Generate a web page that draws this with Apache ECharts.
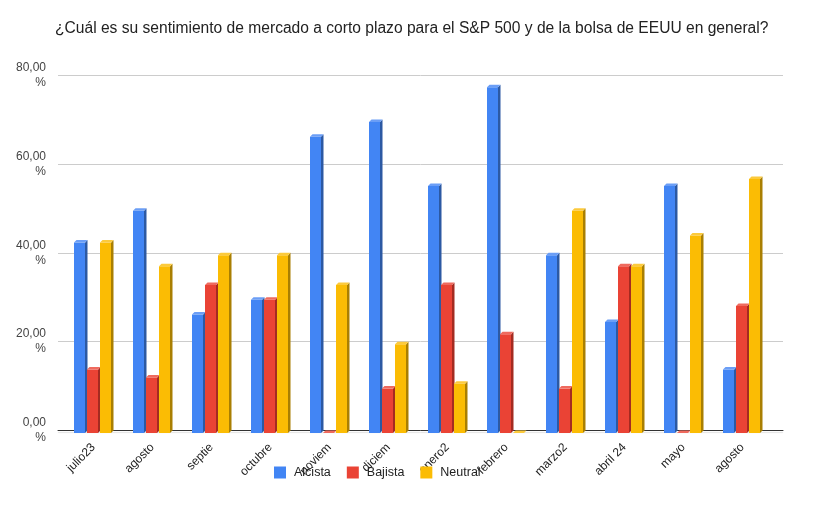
<!DOCTYPE html>
<html>
<head>
<meta charset="utf-8">
<script src="https://cdn.jsdelivr.net/npm/echarts@6/dist/echarts.min.js"></script>
<style>
html,body{margin:0;padding:0;background:#fff;}
#chart{width:836px;height:514px;}
</style>
</head>
<body>
<div id="chart"></div>
<script>
var titleText = '¿Cuál es su sentimiento de mercado a corto plazo para el S&P 500 y de la bolsa de EEUU en general?';
var categories = ['julio23','agosto','septie','octubre','noviem','diciem','enero2','febrero','marzo2','abril 24','mayo','agosto'];
var seriesNames = ['Alcista','Bajista','Neutral'];
var alcista = [42.86, 50.00, 26.67, 30.00, 66.67, 70.00, 55.56, 77.78, 40.00, 25.00, 55.56, 14.29];
var bajista = [14.29, 12.50, 33.33, 30.00, 0.00, 10.00, 33.33, 22.22, 10.00, 37.50, 0.00, 28.57];
var neutral = [42.86, 37.50, 40.00, 40.00, 33.33, 20.00, 11.11, 0.00, 50.00, 37.50, 44.44, 57.14];
var yTicks = [0, 20, 40, 60, 80];

var faceColors = ['#4285f4', '#ea4335', '#fbbc04'];
var sideColors = ['#2c59a3', '#a42b21', '#a97f02'];
var topColors  = ['#6b9ef6', '#ef6a5e', '#fcca3c'];

var FONT = '"Liberation Sans", Arial, sans-serif';

function makeRender(s) {
  return function (params, api) {
    var idx = api.value(0), val = api.value(1);
    var top = api.coord([idx, val]);
    var base = api.coord([idx, 0]);
    var step = 13, fw = 11, d = 2.5;
    var x0 = top[0] + (s - 1) * step - step / 2;
    var yt = top[1] + d, yb = base[1] + d;
    var children = [];
    if (yb - yt > 0.1) {
      children.push({type: 'rect', shape: {x: x0, y: yt, width: fw, height: yb - yt}, style: {fill: faceColors[s]}});
      children.push({type: 'polygon', shape: {points: [[x0 + fw, yt], [x0 + fw + d, yt - d], [x0 + fw + d, yb - d], [x0 + fw, yb]]}, style: {fill: sideColors[s]}});
    }
    children.push({type: 'polygon', shape: {points: [[x0, yt], [x0 + d, yt - d], [x0 + fw + d, yt - d], [x0 + fw, yt]]}, style: {fill: topColors[s]}});
    return {type: 'group', children: children};
  };
}

var dataSets = [alcista, bajista, neutral];
var series = dataSets.map(function (arr, s) {
  return {
    name: seriesNames[s],
    type: 'custom',
    xAxisIndex: 1,
    yAxisIndex: 1,
    itemStyle: {color: faceColors[s]},
    renderItem: makeRender(s),
    encode: {x: 0, y: 1},
    data: arr.map(function (v, i) { return [i, v]; })
  };
});

var chart = echarts.init(document.getElementById('chart'), null, {renderer: 'canvas'});
chart.setOption({
  animation: false,
  backgroundColor: '#ffffff',
  title: {
    text: titleText,
    left: 50,
    top: 16,
    textStyle: {fontFamily: FONT, fontSize: 15.6, fontWeight: 'normal', color: '#222'}
  },
  legend: {
    data: seriesNames,
    left: 269,
    top: 461,
    icon: 'rect',
    itemWidth: 12,
    itemHeight: 12,
    itemGap: 16,
    textStyle: {fontFamily: FONT, fontSize: 12.5, color: '#222', padding: [0, 0, 0, 3]}
  },
  grid: [
    {left: 58, right: 53, top: 75, height: 355.5},
    {left: 64, width: 708, top: 75, height: 355.5}
  ],
  xAxis: [
    {
      gridIndex: 0, type: 'value', min: 0, max: 1,
      axisLine: {show: true, lineStyle: {color: '#333', width: 1, shadowColor: '#e2e2e2', shadowOffsetY: 2, shadowBlur: 1}},
      axisTick: {show: false}, axisLabel: {show: false}, splitLine: {show: false}
    },
    {
      gridIndex: 1, type: 'category', data: categories,
      axisLine: {show: false}, axisTick: {show: false},
      axisLabel: {rotate: 45, margin: 15, interval: 0, fontFamily: FONT, fontSize: 12, color: '#222'}
    }
  ],
  yAxis: [
    {
      gridIndex: 0, type: 'value', min: yTicks[0], max: yTicks[yTicks.length - 1], interval: 20,
      axisLine: {show: false}, axisTick: {show: false},
      splitLine: {lineStyle: {color: '#cccccc', width: 1}},
      axisLabel: {
        margin: 12, align: 'right', lineHeight: 15, padding: [3, 0, 0, 0],
        fontFamily: FONT, fontSize: 12, color: '#444',
        formatter: function (v) { return v.toFixed(2).replace('.', ',') + '\n%'; }
      }
    },
    {
      gridIndex: 1, type: 'value', min: yTicks[0], max: yTicks[yTicks.length - 1], interval: 20,
      show: false, splitLine: {show: false}
    }
  ],
  series: series
});
</script>
</body>
</html>
